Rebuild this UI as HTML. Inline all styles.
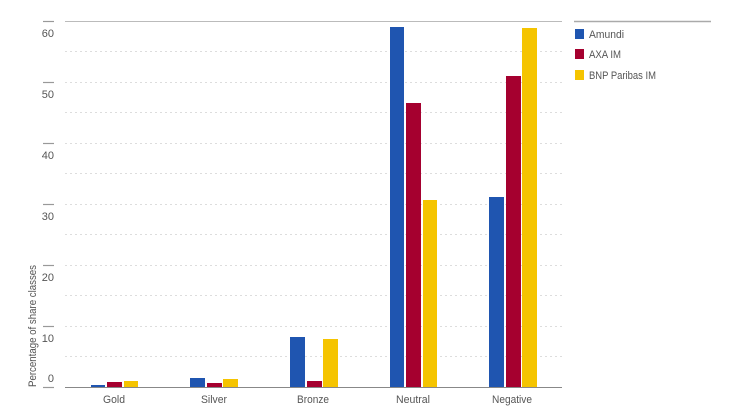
<!DOCTYPE html>
<html><head><style>
body{margin:0;background:#fff;}
svg text{font-family:"Liberation Sans Narrow","Liberation Sans",sans-serif;fill:#555;}
</style></head><body>
<svg width="754" height="414" xmlns="http://www.w3.org/2000/svg">
<g stroke="#ddd" stroke-dasharray="2,3" stroke-width="1">
<line x1="65" x2="562" y1="51.5" y2="51.5"/><line x1="65" x2="562" y1="82.5" y2="82.5"/>
<line x1="65" x2="562" y1="112.5" y2="112.5"/><line x1="65" x2="562" y1="143.5" y2="143.5"/>
<line x1="65" x2="562" y1="173.5" y2="173.5"/><line x1="65" x2="562" y1="204.5" y2="204.5"/>
<line x1="65" x2="562" y1="234.5" y2="234.5"/><line x1="65" x2="562" y1="265.5" y2="265.5"/>
<line x1="65" x2="562" y1="295.5" y2="295.5"/><line x1="65" x2="562" y1="326.5" y2="326.5"/>
<line x1="65" x2="562" y1="356.5" y2="356.5"/>
</g>
<line x1="65" x2="562" y1="21.5" y2="21.5" stroke="#bbb"/>
<g stroke="#999" stroke-width="1.2">
<line x1="43" x2="54" y1="21.5" y2="21.5"/><line x1="43" x2="54" y1="82.5" y2="82.5"/>
<line x1="43" x2="54" y1="143.5" y2="143.5"/><line x1="43" x2="54" y1="204.5" y2="204.5"/>
<line x1="43" x2="54" y1="265.5" y2="265.5"/><line x1="43" x2="54" y1="326.5" y2="326.5"/>
<line x1="43" x2="54" y1="387.5" y2="387.5"/>
</g>
<g font-size="11" text-anchor="end">
<text x="54" y="37">60</text><text x="54" y="98">50</text><text x="54" y="159">40</text>
<text x="54" y="220">30</text><text x="54" y="281">20</text><text x="54" y="342">10</text><text x="54" y="382">0</text>
</g>
<text transform="translate(36,387) rotate(-90)" font-size="11" textLength="122" lengthAdjust="spacingAndGlyphs">Percentage of share classes</text>
<g>
<rect x="91" y="385" width="14" height="2" fill="#1f55b0"/><rect x="107" y="382" width="15" height="5" fill="#a5002f"/><rect x="124" y="381" width="14" height="6" fill="#f5c400"/>
<rect x="190" y="378" width="15" height="9" fill="#1f55b0"/><rect x="207" y="383" width="15" height="4" fill="#a5002f"/><rect x="223" y="379" width="15" height="8" fill="#f5c400"/>
<rect x="290" y="337" width="15" height="50" fill="#1f55b0"/><rect x="307" y="381" width="15" height="6" fill="#a5002f"/><rect x="323" y="339" width="15" height="48" fill="#f5c400"/>
<rect x="390" y="27" width="14" height="360" fill="#1f55b0"/><rect x="406" y="103" width="15" height="284" fill="#a5002f"/><rect x="423" y="200" width="14" height="187" fill="#f5c400"/>
<rect x="489" y="197" width="15" height="190" fill="#1f55b0"/><rect x="506" y="76" width="15" height="311" fill="#a5002f"/><rect x="522" y="28" width="15" height="359" fill="#f5c400"/>
</g>
<line x1="65" x2="562" y1="387.5" y2="387.5" stroke="#888"/>
<g font-size="11" text-anchor="middle">
<text x="114" y="403" textLength="22" lengthAdjust="spacingAndGlyphs">Gold</text><text x="214" y="403" textLength="26" lengthAdjust="spacingAndGlyphs">Silver</text><text x="313" y="403" textLength="32" lengthAdjust="spacingAndGlyphs">Bronze</text>
<text x="413" y="403" textLength="34" lengthAdjust="spacingAndGlyphs">Neutral</text><text x="512" y="403" textLength="40" lengthAdjust="spacingAndGlyphs">Negative</text>
</g>
<line x1="574" x2="711" y1="21.5" y2="21.5" stroke="#aaa" stroke-width="1.5"/>
<rect x="575" y="29" width="9" height="10" fill="#1f55b0"/><text x="589" y="38" font-size="11" textLength="35" lengthAdjust="spacingAndGlyphs">Amundi</text>
<rect x="575" y="49" width="9" height="10" fill="#a5002f"/><text x="589" y="58" font-size="11" textLength="32" lengthAdjust="spacingAndGlyphs">AXA IM</text>
<rect x="575" y="70" width="9" height="10" fill="#f5c400"/><text x="589" y="79" font-size="11" textLength="67" lengthAdjust="spacingAndGlyphs">BNP Paribas IM</text>
</svg>
</body></html>
